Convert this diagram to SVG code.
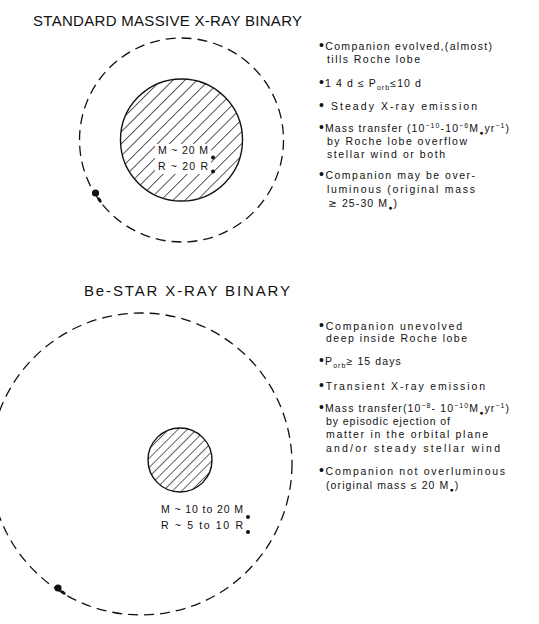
<svg xmlns="http://www.w3.org/2000/svg" width="539" height="624" viewBox="0 0 539 624">
<style>
.t{font-family:"Liberation Sans","DejaVu Sans",sans-serif;font-size:10.5px;fill:#111}
.ls{letter-spacing:1.1px}
.h{font-family:"Liberation Sans","DejaVu Sans",sans-serif;font-size:15px;fill:#111}
.c{font-family:"Liberation Sans","DejaVu Sans",sans-serif;font-size:10.5px;fill:#111}
.orbit{fill:none;stroke:#111;stroke-width:1.3;stroke-dasharray:10 6}
.star{stroke:#111;stroke-width:1.4}
.sub{font-size:7px}
.b{font-size:14px}
</style>
<defs>
<pattern id="hatchA" patternUnits="userSpaceOnUse" width="8.5" height="8.5" patternTransform="rotate(45)">
<rect width="8.5" height="8.5" fill="#fff"/>
<line x1="0" y1="0" x2="0" y2="8.5" stroke="#111" stroke-width="1.4"/>
</pattern>
<pattern id="hatchB" patternUnits="userSpaceOnUse" width="6.6" height="6.6" patternTransform="rotate(45)">
<rect width="6.6" height="6.6" fill="#fff"/>
<line x1="0" y1="0" x2="0" y2="6.6" stroke="#111" stroke-width="1.3"/>
</pattern>
</defs>
<rect width="539" height="624" fill="#fff"/>

<g id="standard-title">
<text class="h" x="33" y="26" textLength="269" lengthAdjust="spacing">STANDARD MASSIVE X-RAY BINARY</text>
</g>

<g id="standard-system">
<circle class="orbit" cx="181.5" cy="140" r="102"/>
<circle class="star" cx="181.5" cy="140" r="61" fill="url(#hatchA)"/>
<rect x="155" y="144" width="56" height="30" fill="#fff"/>
<text class="c" x="158" y="154" textLength="50" lengthAdjust="spacing">M ~ 20 M</text>
<circle cx="213" cy="157.5" r="2" fill="#111"/>
<text class="c" x="158" y="170" textLength="50" lengthAdjust="spacing">R ~ 20 R</text>
<circle cx="213" cy="171.5" r="2" fill="#111"/>
<g id="standard-companion">
<circle cx="95.5" cy="193" r="3.6" fill="#111"/>
<ellipse cx="99.5" cy="200" rx="1.6" ry="3" transform="rotate(-30 99.5 200)" fill="#111"/>
</g>
</g>

<g id="standard-notes">
<text class="t" x="319" y="50" textLength="173" lengthAdjust="spacing"><tspan class="b">•</tspan>Companion evolved,(almost)</text>
<text class="t" x="327" y="63" textLength="93" lengthAdjust="spacing">tills Roche lobe</text>
<text class="t ls" x="319" y="87"><tspan class="b">•</tspan>1 4 d ≤ P<tspan class="sub" dy="3">orb</tspan><tspan dy="-3">≤10 d</tspan></text>
<text class="t" x="319" y="110" textLength="158" lengthAdjust="spacing"><tspan class="b">•</tspan>  Steady  X-ray emission</text>
<text class="t ls" x="319" y="132"><tspan class="b">•</tspan>Mass transfer (10<tspan class="sub" dy="-4">−10</tspan><tspan dy="4">-10</tspan><tspan class="sub" dy="-4">−6</tspan><tspan dy="4">M</tspan><tspan class="sub" dy="3">●</tspan><tspan dy="-3">yr</tspan><tspan class="sub" dy="-4">−1</tspan><tspan dy="4">)</tspan></text>
<text class="t" x="327" y="145" textLength="140" lengthAdjust="spacing">by Roche lobe overflow</text>
<text class="t" x="327" y="158" textLength="118" lengthAdjust="spacing">stellar wind or both</text>
<text class="t" x="319" y="179" textLength="156" lengthAdjust="spacing"><tspan class="b">•</tspan>Companion may be over-</text>
<text class="t" x="327" y="193" textLength="148" lengthAdjust="spacing">luminous (original mass</text>
<text class="t ls" x="328" y="207">≳ 25-30 M<tspan class="sub" dy="3">●</tspan><tspan dy="-3">)</tspan></text>
</g>

<g id="be-title">
<text class="h" x="84" y="296" textLength="206" lengthAdjust="spacing">Be-STAR X-RAY BINARY</text>
</g>

<g id="be-system">
<circle class="orbit" cx="141" cy="464" r="151"/>
<circle class="star" cx="180" cy="460" r="32" fill="url(#hatchB)"/>
<text class="c" x="161" y="513" textLength="82" lengthAdjust="spacing">M ~ 10 to 20 M</text>
<circle cx="248" cy="517" r="2" fill="#111"/>
<text class="c" x="161" y="529" textLength="82" lengthAdjust="spacing">R ~  5 to 10 R</text>
<circle cx="248" cy="532" r="2" fill="#111"/>
<g id="be-companion">
<circle cx="58" cy="588" r="3.6" fill="#111"/>
<ellipse cx="63" cy="592.5" rx="3" ry="1.6" transform="rotate(35 63 592.5)" fill="#111"/>
</g>
</g>

<g id="be-notes">
<text class="t" x="319" y="330" textLength="143" lengthAdjust="spacing"><tspan class="b">•</tspan>Companion unevolved</text>
<text class="t" x="326" y="342" textLength="141" lengthAdjust="spacing">deep inside Roche lobe</text>
<text class="t ls" x="319" y="365"><tspan class="b">•</tspan>P<tspan class="sub" dy="3">orb</tspan><tspan dy="-3">≥ 15 days</tspan></text>
<text class="t" x="319" y="390" textLength="166" lengthAdjust="spacing"><tspan class="b">•</tspan>Transient  X-ray emission</text>
<text class="t ls" x="319" y="412"><tspan class="b">•</tspan>Mass transfer(10<tspan class="sub" dy="-4">−8</tspan><tspan dy="4">- 10</tspan><tspan class="sub" dy="-4">−10</tspan><tspan dy="4">M</tspan><tspan class="sub" dy="3">●</tspan><tspan dy="-3">yr</tspan><tspan class="sub" dy="-4">−1</tspan><tspan dy="4">)</tspan></text>
<text class="t" x="326" y="425" textLength="124" lengthAdjust="spacing">by episodic ejection of</text>
<text class="t" x="326" y="438" textLength="162" lengthAdjust="spacing">matter in the orbital plane</text>
<text class="t" x="326" y="452" textLength="174" lengthAdjust="spacing">and/or steady stellar wind</text>
<text class="t" x="319" y="475" textLength="186" lengthAdjust="spacing"><tspan class="b">•</tspan>Companion not overluminous</text>
<text class="t ls" x="326" y="489">(original mass ≤ 20 M<tspan class="sub" dy="3">●</tspan><tspan dy="-3">)</tspan></text>
</g>
</svg>
